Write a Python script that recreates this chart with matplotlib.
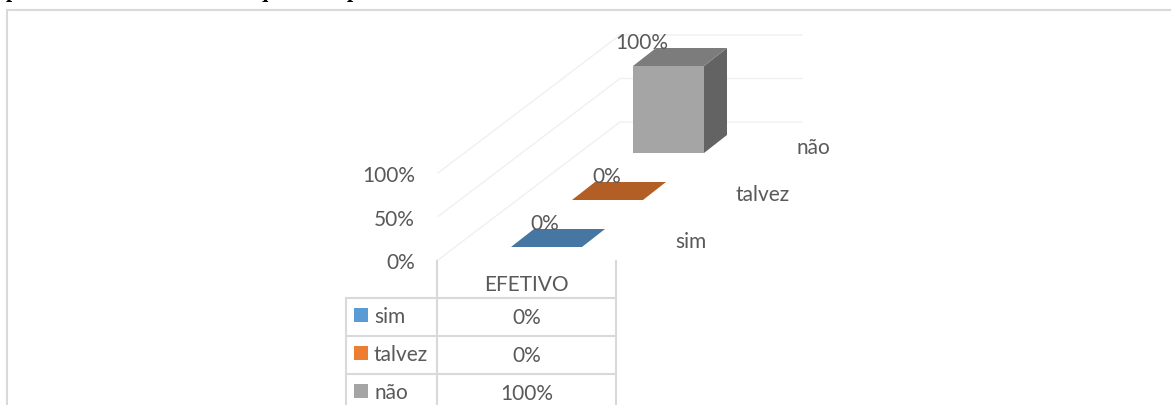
import matplotlib
matplotlib.use("Agg")
import matplotlib.pyplot as plt
from matplotlib.patches import Polygon, Rectangle

plt.rcParams['font.family'] = ['Lato', 'DejaVu Sans']

# data
series = ['sim', 'talvez', 'não']
category = 'EFETIVO'
values = [0, 0, 100]
axis_ticks = [0, 50, 100]
legend_colors = ['#5b9bd5', '#ed7d31', '#a5a5a5']
top_colors = ['#4677a3', '#b35e24', '#7c7c7c']
side_colors = ['#3f6c94', '#a35420', '#636363']

TXT = '#595959'
GRID = '#d9d9d9'
WALL = '#f0f0f0'
FS = 15

# layout of the fake 3d projection, in pixels
ORIGIN_X, ORIGIN_Y = 438, 260
STEP_X, STEP_Y = 61, -47
PX_PER_PCT = 0.87
BAR_OFFSET_X, BAR_OFFSET_Y = 73, -13
BAR_W = 71
DEPTH_X, DEPTH_Y = 23, -18
WALL_X, WALL_Y = 182, -138
WALL_END = 802
# excel puts the value labels a bit differently per series
LABEL_DX = [34, 35, 9]


def project(depth, pct):
    x = ORIGIN_X + depth * STEP_X
    y = ORIGIN_Y + depth * STEP_Y - pct * PX_PER_PCT
    return x, y


fig = plt.figure(figsize=(11.71, 4.05), dpi=100)
ax = fig.add_axes([0, 0, 1, 1])
ax.set_xlim(0, 1171)
ax.set_ylim(405, 0)
ax.axis('off')

# heading of the page, only the descenders show above the frame
for x, ch in [(12, 'p'), (261, 'q'), (353, 'p')]:
    ax.text(x, -3, ch, family='Liberation Serif', weight='bold', fontsize=16,
            ha='center', va='baseline', color='black', clip_on=True)

# frame
ax.plot([7, 7, 1171], [405, 10, 10], color=GRID, lw=1.5, solid_joinstyle='miter')

# walls and axis labels
for t in axis_ticks:
    x0, y0 = project(0, t)
    x1, y1 = x0 + WALL_X, y0 + WALL_Y
    ax.plot([x0, x1, WALL_END], [y0, y1, y1], color=WALL, lw=1, zorder=1)
    ax.text(415, y0 + 3, f'{t}%', ha='right', va='center', fontsize=FS, color=TXT)

# bars
for i, (name, val) in enumerate(zip(series, values)):
    fx, fy = project(i, 0)
    fx += BAR_OFFSET_X
    fy += BAR_OFFSET_Y
    h = val * PX_PER_PCT
    tx = fx + DEPTH_X
    ty = fy + DEPTH_Y
    if val > 0:
        ax.add_patch(Polygon([(fx + BAR_W, fy), (tx + BAR_W, ty), (tx + BAR_W, ty - h),
                              (fx + BAR_W, fy - h)], color=side_colors[i], lw=0, zorder=3))
        ax.add_patch(Rectangle((fx, fy - h), BAR_W, h, color=legend_colors[i], lw=0, zorder=3))
    ax.add_patch(Polygon([(fx, fy - h), (fx + BAR_W, fy - h), (tx + BAR_W, ty - h),
                          (tx, ty - h)], color=top_colors[i], lw=0, zorder=3))
    # value label over the bar and series name on the depth axis
    ax.text(fx + LABEL_DX[i], fy - h - 23, f'{val}%', ha='center', va='center',
            fontsize=FS, color=TXT, zorder=4)
    ax.text(fx + 164, fy - 5, name, ha='left', va='center', fontsize=FS, color=TXT)

# data table
LEFT, MID, RIGHT = 346, 437, 616
rows_y = [298, 336, 374]
ax.plot([MID, MID], [261, 405], color=GRID, lw=1.5)
ax.plot([RIGHT, RIGHT], [261, 405], color=GRID, lw=1.5)
ax.plot([LEFT, LEFT], [rows_y[0], 405], color=GRID, lw=1.5)
for y in rows_y:
    ax.plot([LEFT, RIGHT], [y, y], color=GRID, lw=1.5)
ax.text((MID + RIGHT) / 2, 285, category, ha='center', va='center', fontsize=FS, color=TXT)
for y, name, val, col in zip(rows_y, series, values, legend_colors):
    ax.add_patch(Rectangle((354, y + 10), 14, 14, color=col, lw=0))
    ax.text(374, y + 19, name, ha='left', va='center', fontsize=FS, color=TXT)
    ax.text((MID + RIGHT) / 2, y + 20, f'{val}%', ha='center', va='center', fontsize=FS, color=TXT)

fig.savefig('out.png', dpi=100)
